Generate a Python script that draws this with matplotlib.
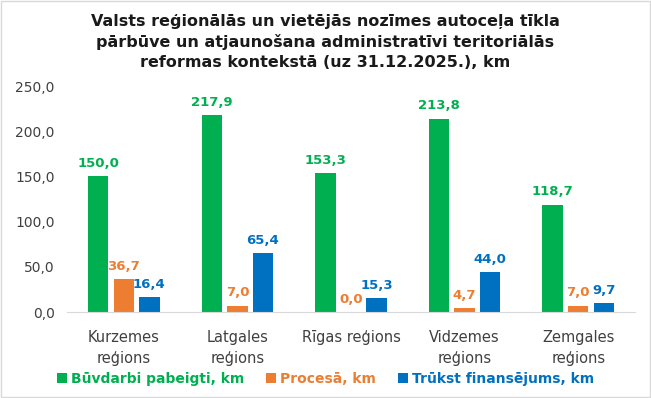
import numpy as np
import matplotlib.pyplot as plt
from matplotlib.patches import Rectangle

# ---- dati ----
regioni = ["Kurzemes\nreģions", "Latgales\nreģions", "Rīgas reģions",
           "Vidzemes\nreģions", "Zemgales\nreģions"]
pabeigti = [150.0, 217.9, 153.3, 213.8, 118.7]
procesa = [36.7, 7.0, 0.0, 4.7, 7.0]
trukst = [16.4, 65.4, 15.3, 44.0, 9.7]
serijas = ["Būvdarbi pabeigti, km", "Procesā, km", "Trūkst finansējums, km"]
yticks = [0, 50, 100, 150, 200, 250]

krasas = ["#00B050", "#ED7D31", "#0070C0"]
virsraksts = ("Valsts reģionālās un vietējās nozīmes autoceļa tīkla\n"
              "pārbūve un atjaunošana administratīvi teritoriālās\n"
              "reformas kontekstā (uz 31.12.2025.), km")

plt.rcParams['font.family'] = ['DejaVu Sans']

fig = plt.figure(figsize=(6.51, 3.98), dpi=100)
ax = fig.add_axes([67 / 651, 1 - 312 / 398, (635 - 67) / 651, (312 - 86) / 398])

x = np.arange(len(regioni))
w = 0.18
step = 0.225
for i, (vals, c, name) in enumerate(zip([pabeigti, procesa, trukst], krasas, serijas)):
    pos = x + (i - 1) * step
    ax.bar(pos, vals, width=w, color=c, label=name)
    for xp, v in zip(pos, vals):
        ax.annotate(f"{v:.1f}".replace(".", ","), (xp, v), xytext=(0, 4.5),
                    textcoords='offset points', ha='center', va='bottom',
                    color=c, fontsize=9.5, fontweight='bold')

ax.set_xlim(-0.5, len(regioni) - 0.5)
ax.set_ylim(0, 250)
ax.set_yticks(yticks)
ax.set_yticklabels([f"{t:.1f}".replace(".", ",") for t in yticks], fontsize=10, color='#404040')
ax.set_xticks(x)
ax.set_xticklabels(regioni, fontsize=10.5, color='#404040', linespacing=1.5)
ax.tick_params(axis='y', length=0, pad=9)
ax.tick_params(axis='x', length=0, pad=13)
for s in ['top', 'right', 'left']:
    ax.spines[s].set_visible(False)
ax.spines['bottom'].set_color('#d9d9d9')

leg = fig.legend(loc='center', bbox_to_anchor=(0.5, 1 - 379 / 398), ncol=3, frameon=False,
                 fontsize=10, handlelength=0.7, handleheight=0.7, handletextpad=0.3,
                 columnspacing=1.6)
for t, c in zip(leg.get_texts(), krasas):
    t.set_color(c)
    t.set_fontweight('bold')

fig.text(0.5, 1 - 42 / 398, virsraksts, ha='center', va='center', fontsize=11.5,
         fontweight='bold', color='#1a1a1a', linespacing=1.38)

fig.patches.append(Rectangle((0.002, 0.002), 0.996, 0.996, transform=fig.transFigure,
                             fill=False, edgecolor='#d9d9d9', linewidth=1))

fig.savefig("out.png", dpi=100)
